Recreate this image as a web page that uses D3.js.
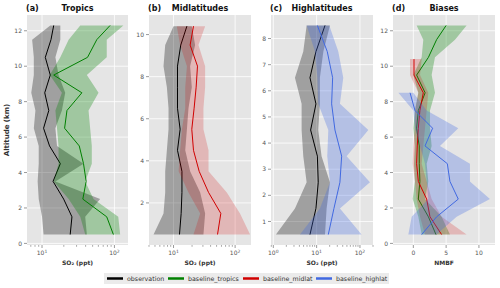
<!DOCTYPE html>
<html>
<head>
<meta charset="utf-8">
<script src="https://cdn.jsdelivr.net/npm/d3@7"></script>
<style>
  body { margin: 0; background: #fff; }
  text { font-family: "DejaVu Sans", sans-serif; }
</style>
</head>
<body>
<svg id="chart" width="500" height="288"></svg>
<script>
// altitude levels (km)
const altTrop = [0.5, 1.5, 2.5, 3.5, 4.5, 5.5, 6.5, 7.5, 8.5, 9.5, 10.5, 11.5, 12.3];
const altMid = [0.5, 1.5, 2.5, 3.5, 4.5, 5.5, 6.5, 7.5, 8.5, 9.5, 10.4];
const altHigh = [0.5, 1.5, 2.5, 3.5, 4.5, 5.5, 6.5, 7.5, 8.5];

// (a) tropics SO2 (ppt)
const obsTrop = [24.5, 25.9, 19.9, 14.2, 17.9, 12.7, 10.5, 12.4, 10.9, 13.0, 11.1, 13.3, 14.5];
const obsTropLo = [10.5, 10.0, 9.0, 8.7, 9.0, 9.0, 7.7, 8.1, 7.1, 7.7, 7.7, 7.3, 13.0];
const obsTropHi = [41.6, 39.5, 63.5, 15.3, 37.4, 16.1, 15.3, 18.8, 20.9, 16.9, 15.3, 17.9, 17.9];
const modTrop = [96.8, 78.3, 36.6, 40.7, 37.4, 32.7, 20.5, 22.1, 35.5, 14.5, 42.5, 57.1, 87.1];
const modTropLo = [39.5, 33.7, 23.3, 14.5, 16.9, 16.9, 16.1, 15.3, 18.8, 12.8, 17.9, 23.3, 33.7];
const modTropHi = [120, 113, 51.4, 39.5, 48.7, 48.7, 46.2, 43.9, 60.3, 41.6, 78.3, 78.3, 133];

// (b) midlatitudes
const obsMid = [12.5, 13.3, 13.7, 13.7, 11.6, 12.8, 11.6, 11.6, 11.6, 13.1, 16.5];
const obsMidLo = [4.74, 6.88, 7.33, 7.33, 7.8, 8.3, 8.3, 7.8, 6.88, 7.33, 10];
const obsMidHi = [30.6, 32.6, 27.1, 18.6, 15.5, 16.5, 17.5, 19.8, 18.6, 22.4, 19.8];
const modMid = [51.8, 58.6, 37.0, 26.1, 21.1, 19.8, 21.6, 23.3, 24.5, 18.6, 21.1];
const modMidLo = [21.1, 27.1, 17.5, 12.1, 12.8, 13.7, 15.5, 15.5, 16.5, 12.8, 11.3];
const modMidHi = [175, 120, 73.3, 37.0, 37.0, 30.6, 30.6, 32.6, 32.6, 25.4, 32.6];

// (c) highlatitudes
const obsHigh = [7.02, 9.65, 10.9, 10.4, 7.27, 9.65, 7.02, 9.65, 15.6];
const obsHighLo = [1.15, 3.16, 5.88, 4.92, 4.5, 4.5, 3.16, 4.92, 5.88];
const obsHighHi = [15.6, 17.0, 20.3, 13.0, 10.9, 11.9, 11.9, 14.3, 20.3];
const modHigh = [18.6, 25.1, 34.5, 37.8, 26.5, 22.2, 23.4, 17.6, 10.4];
const modHighLo = [4.13, 11.9, 20.3, 17.6, 18.6, 10.9, 10.4, 9.15, 5.88];
const modHighHi = [109, 34.5, 170, 49.2, 156, 34.5, 41.2, 31.6, 19.6];

// (d) biases (NMBF)
const biasTrop = [3.45, 2.3, 0.76, 1.0, 0.9, 0.9, 0.5, 0.76, 1.8, 0.5, 2.3, 3.55, 5.0];
const biasTropLo = [1.27, 0.76, -0.1, 0.25, 0.1, 0.25, 0, 0.25, 0.76, 0, 1.27, 1.52, 0.5];
const biasTropHi = [5.58, 4.31, 1.78, 2.28, 2.03, 2.79, 2.54, 2.54, 3.3, 2.79, 3.3, 6.35, 8.12];
const biasMid = [4.31, 2.54, 2.03, 0.76, 0.5, 0.6, 0.76, 1.0, 1.52, 0.1, 0.1];
const biasMidLo = [1.78, 1.02, 0.5, 0.25, -0.1, 0, 0.25, 0.25, 0.76, -0.51, -0.51];
const biasMidHi = [8.12, 4.31, 2.79, 2.03, 1.27, 1.52, 1.78, 2.03, 2.28, 1.02, 1.27];
const biasHigh = [1.27, 3.55, 6.85, 5.58, 5.18, 1.78, 2.94, 0.25, -0.5];
const biasHighLo = [-0.76, -0.25, 2.28, 2.03, 1.78, 1.02, 0.25, 0, -2.28];
const biasHighHi = [3.55, 6.6, 11.68, 8.63, 8.63, 4.06, 6.85, 2.03, 0];

const legendNames = ["observation", "baseline_tropics", "baseline_midlat", "baseline_highlat"];
const colors = ["#000000", "#008000", "#d00000", "#4169e1"];

const svg = d3.select("svg#chart");
const plotTop = 15, plotBottom = 245;

const mk = (alt, v, lo, hi, c) => ({ c, pts: alt.map((a, i) => ({ a, v: v[i], lo: lo[i], hi: hi[i] })) });

const panels = [
  { tag: "(a)", title: "Tropics", x0: 27, x1: 128, log: true, xdom: [6.2, 154], ydom: [-0.09, 12.89],
    yticks: [0, 2, 4, 6, 8, 10, 12], xlabel: "SO\u2082 (ppt)",
    series: [mk(altTrop, obsTrop, obsTropLo, obsTropHi, 0), mk(altTrop, modTrop, modTropLo, modTropHi, 1)] },
  { tag: "(b)", title: "Midlatitudes", x0: 149, x1: 251, log: true, xdom: [4.0, 181], ydom: [0.0, 10.93],
    yticks: [2, 4, 6, 8, 10], xlabel: "SO\u2082 (ppt)",
    series: [mk(altMid, obsMid, obsMidLo, obsMidHi, 0), mk(altMid, modMid, modMidLo, modMidHi, 2)] },
  { tag: "(c)", title: "Highlatitudes", x0: 271, x1: 373, log: true, xdom: [0.885, 200], ydom: [0.1, 8.9],
    yticks: [1, 2, 3, 4, 5, 6, 7, 8], xlabel: "SO\u2082 (ppt)",
    series: [mk(altHigh, obsHigh, obsHighLo, obsHighHi, 0), mk(altHigh, modHigh, modHighLo, modHighHi, 3)] },
  { tag: "(d)", title: "Biases", x0: 393, x1: 495, log: false, xdom: [-3.1, 12.45], ydom: [-0.09, 12.89],
    yticks: [0, 2, 4, 6, 8, 10, 12], xlabel: "NMBF",
    series: [mk(altTrop, biasTrop, biasTropLo, biasTropHi, 1), mk(altMid, biasMid, biasMidLo, biasMidHi, 2),
             mk(altHigh, biasHigh, biasHighLo, biasHighHi, 3)] }
];

panels.forEach((p, pi) => {
  const x = (p.log ? d3.scaleLog() : d3.scaleLinear()).domain(p.xdom).range([p.x0, p.x1]);
  const y = d3.scaleLinear().domain(p.ydom).range([plotBottom, plotTop]);
  const g = svg.append("g");

  g.append("rect").attr("x", p.x0).attr("y", plotTop).attr("width", p.x1 - p.x0)
    .attr("height", plotBottom - plotTop).attr("fill", "#e5e5e5");

  // x ticks: decades + minor ticks on log axes
  let xmajor, xminor = [];
  if (p.log) {
    xmajor = [];
    for (let e = -1; e <= 3; e++) {
      const d = Math.pow(10, e);
      if (d >= p.xdom[0] && d <= p.xdom[1]) xmajor.push(d);
      for (let k = 2; k <= 9; k++) {
        const m = k * d;
        if (m >= p.xdom[0] && m <= p.xdom[1]) xminor.push(m);
      }
    }
  } else {
    xmajor = [0, 5, 10];
  }

  // gridlines
  g.append("g").selectAll("line").data(p.yticks).join("line")
    .attr("x1", p.x0).attr("x2", p.x1).attr("y1", d => y(d)).attr("y2", d => y(d))
    .attr("stroke", "#fff").attr("stroke-width", 0.8);
  g.append("g").selectAll("line").data(xmajor).join("line")
    .attr("y1", plotTop).attr("y2", plotBottom).attr("x1", d => x(d)).attr("x2", d => x(d))
    .attr("stroke", "#fff").attr("stroke-width", 0.8);

  // bands and lines
  const clipId = "clip" + pi;
  svg.append("clipPath").attr("id", clipId).append("rect")
    .attr("x", p.x0).attr("y", plotTop).attr("width", p.x1 - p.x0).attr("height", plotBottom - plotTop);
  const plot = g.append("g").attr("clip-path", `url(#${clipId})`);
  const area = d3.area().y(d => y(d.a)).x0(d => x(d.lo)).x1(d => x(d.hi));
  const line = d3.line().y(d => y(d.a)).x(d => x(d.v));
  p.series.forEach(s => {
    plot.append("path").datum(s.pts).attr("d", area)
      .attr("fill", colors[s.c]).attr("fill-opacity", s.c === 2 ? 0.2 : 0.3);
    plot.append("path").datum(s.pts).attr("d", line)
      .attr("fill", "none").attr("stroke", colors[s.c]).attr("stroke-width", 1);
  });

  // y axis
  const yAxis = g.append("g");
  yAxis.selectAll("line").data(p.yticks).join("line")
    .attr("x1", p.x0 - 3).attr("x2", p.x0).attr("y1", d => y(d)).attr("y2", d => y(d))
    .attr("stroke", "#555").attr("stroke-width", 0.6);
  yAxis.selectAll("text").data(p.yticks).join("text")
    .attr("x", p.x0 - 5).attr("y", d => y(d)).attr("dy", "0.35em").attr("text-anchor", "end")
    .attr("font-size", 6).attr("fill", "#555").text(d => d);

  // x axis
  const xAxis = g.append("g");
  xAxis.append("g").selectAll("line").data(xmajor).join("line")
    .attr("y1", plotBottom).attr("y2", plotBottom + 3).attr("x1", d => x(d)).attr("x2", d => x(d))
    .attr("stroke", "#555").attr("stroke-width", 0.6);
  xAxis.append("g").selectAll("line").data(xminor).join("line")
    .attr("y1", plotBottom).attr("y2", plotBottom + 1.8).attr("x1", d => x(d)).attr("x2", d => x(d))
    .attr("stroke", "#555").attr("stroke-width", 0.5);
  const xt = xAxis.append("g").selectAll("text").data(xmajor).join("text")
    .attr("x", d => x(d)).attr("y", plotBottom + 10).attr("text-anchor", "middle")
    .attr("font-size", 6).attr("fill", "#555");
  if (p.log) {
    xt.each(function (d) {
      const t = d3.select(this);
      t.append("tspan").text("10");
      t.append("tspan").attr("dy", -2.5).attr("font-size", 4.5).text(Math.round(Math.log10(d)));
    });
  } else {
    xt.text(d => d);
  }

  g.append("text").attr("x", (p.x0 + p.x1) / 2).attr("y", plotBottom + 20).attr("text-anchor", "middle")
    .attr("font-size", 6).attr("font-weight", "bold").attr("fill", "#333").text(p.xlabel);

  // titles
  g.append("text").attr("x", p.x0 - 1).attr("y", 11).attr("font-size", 8).attr("font-weight", "bold")
    .attr("fill", "#111").text(p.tag);
  g.append("text").attr("x", (p.x0 + p.x1) / 2).attr("y", 11).attr("text-anchor", "middle")
    .attr("font-size", 8).attr("font-weight", "bold").attr("fill", "#111").text(p.title);
});

svg.append("text").attr("transform", "translate(9,130) rotate(-90)").attr("text-anchor", "middle")
  .attr("font-size", 7).attr("font-weight", "bold").attr("fill", "#333").text("Altitude (km)");

// legend
const leg = svg.append("g");
leg.append("rect").attr("x", 104).attr("y", 273).attr("width", 285).attr("height", 11)
  .attr("fill", "#ebebeb");
const legX = [107, 168, 243, 316];
legendNames.forEach((n, i) => {
  leg.append("line").attr("x1", legX[i]).attr("x2", legX[i] + 16).attr("y1", 278.5).attr("y2", 278.5)
    .attr("stroke", colors[i]).attr("stroke-width", 2.5);
  leg.append("text").attr("x", legX[i] + 20).attr("y", 278.5).attr("dy", "0.35em")
    .attr("font-size", 6.3).attr("fill", "#333").text(n);
});
</script>
</body>
</html>
